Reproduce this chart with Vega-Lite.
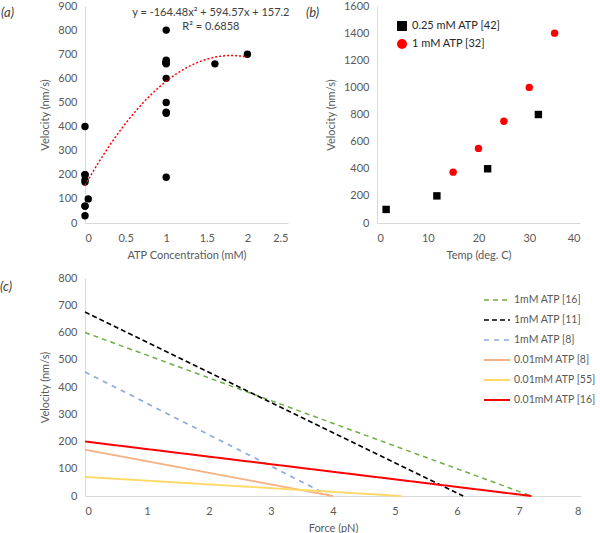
{
  "$schema": "https://vega.github.io/schema/vega-lite/v6.json",
  "padding": {"left": 0, "top": 0, "right": 0, "bottom": 0},
  "autosize": {"type": "pad"},
  "config": {
    "font": "Lato",
    "view": {"stroke": null},
    "axis": {
      "grid": false, "ticks": false, "tickSize": 0, "labelOverlap": false,
      "domainColor": "#D9D9D9", "domainWidth": 1,
      "labelColor": "#595959", "labelFontSize": 11, "labelFont": "Lato",
      "titleColor": "#595959", "titleFontSize": 11, "titleFontWeight": "normal", "titleFont": "Lato"
    },
    "axisY": {"labelPadding": 8, "titlePadding": 7},
    "axisX": {"labelPadding": 9, "titlePadding": 6},
    "title": {"fontSize": 13, "fontStyle": "italic", "fontWeight": "normal", "color": "#404040", "anchor": "start", "frame": "group", "font": "Lato"}
  },
  "datasets": {
    "atp": [
      {"atp": 0, "velocity": 400}, {"atp": 0, "velocity": 200}, {"atp": 0, "velocity": 200},
      {"atp": 0, "velocity": 178}, {"atp": 0, "velocity": 170}, {"atp": 0, "velocity": 70},
      {"atp": 0, "velocity": 70}, {"atp": 0, "velocity": 30}, {"atp": 0.04, "velocity": 100},
      {"atp": 1, "velocity": 800}, {"atp": 1, "velocity": 675}, {"atp": 1, "velocity": 665},
      {"atp": 1, "velocity": 665}, {"atp": 1, "velocity": 665}, {"atp": 1, "velocity": 665},
      {"atp": 1, "velocity": 665}, {"atp": 1, "velocity": 660}, {"atp": 1, "velocity": 600},
      {"atp": 1, "velocity": 500}, {"atp": 1, "velocity": 460}, {"atp": 1, "velocity": 455},
      {"atp": 1, "velocity": 190}, {"atp": 1.6, "velocity": 660}, {"atp": 2, "velocity": 700}
    ],
    "eqn": [
      {"atp": 1.55, "velocity": 870, "label": "y = -164.48x² + 594.57x + 157.2"},
      {"atp": 1.55, "velocity": 814, "label": "R² = 0.6858"}
    ],
    "temp": [
      {"temp": 1.8, "velocity": 100, "series": "0.25 mM ATP [42]"},
      {"temp": 11.8, "velocity": 200, "series": "0.25 mM ATP [42]"},
      {"temp": 21.8, "velocity": 400, "series": "0.25 mM ATP [42]"},
      {"temp": 31.8, "velocity": 800, "series": "0.25 mM ATP [42]"},
      {"temp": 15, "velocity": 375, "series": "1 mM ATP [32]"},
      {"temp": 20, "velocity": 550, "series": "1 mM ATP [32]"},
      {"temp": 25, "velocity": 750, "series": "1 mM ATP [32]"},
      {"temp": 30, "velocity": 1000, "series": "1 mM ATP [32]"},
      {"temp": 35, "velocity": 1400, "series": "1 mM ATP [32]"}
    ],
    "force": [
      {"line": "1mM ATP [16]", "force": 0, "velocity": 600},
      {"line": "1mM ATP [16]", "force": 7.2, "velocity": 0},
      {"line": "1mM ATP [11]", "force": 0, "velocity": 675},
      {"line": "1mM ATP [11]", "force": 6.1, "velocity": 0},
      {"line": "1mM ATP [8]", "force": 0, "velocity": 455},
      {"line": "1mM ATP [8]", "force": 3.95, "velocity": 0},
      {"line": "0.01mM ATP [8]", "force": 0, "velocity": 170},
      {"line": "0.01mM ATP [8]", "force": 4.0, "velocity": 0},
      {"line": "0.01mM ATP [55]", "force": 0, "velocity": 70},
      {"line": "0.01mM ATP [55]", "force": 5.1, "velocity": 0},
      {"line": "0.01mM ATP [16]", "force": 0, "velocity": 200},
      {"line": "0.01mM ATP [16]", "force": 7.2, "velocity": 0}
    ]
  },
  "resolve": {
    "scale": {"color": "independent", "shape": "independent", "strokeDash": "independent", "strokeWidth": "independent"},
    "legend": {"color": "independent", "shape": "independent", "strokeDash": "independent", "strokeWidth": "independent"}
  },
  "spacing": 12,
  "vconcat": [
    {
      "bounds": "flush",
      "spacing": 89,
      "resolve": {
        "scale": {"color": "independent", "shape": "independent"},
        "legend": {"color": "independent", "shape": "independent"}
      },
      "hconcat": [
        {
          "width": 203, "height": 217,
          "title": {"text": "(a)", "offset": -20, "dx": -84},
          "encoding": {
            "x": {"field": "atp", "type": "quantitative", "scale": {"domain": [0, 2.5], "nice": false},
                  "axis": {"values": [0, 0.5, 1, 1.5, 2, 2.5], "format": "~g", "labelOverlap": false, "title": "ATP Concentration (mM)"}},
            "y": {"field": "velocity", "type": "quantitative", "scale": {"domain": [0, 900], "nice": false},
                  "axis": {"values": [0, 100, 200, 300, 400, 500, 600, 700, 800, 900], "format": "d", "labelOverlap": false, "title": "Velocity (nm/s)"}}
          },
          "layer": [
            {
              "data": {"name": "atp"},
              "mark": {"type": "circle", "size": 55, "color": "#000000", "opacity": 1}
            },
            {
              "data": {"name": "atp"},
              "transform": [{"regression": "velocity", "on": "atp", "method": "poly", "order": 2, "extent": [0, 2]}],
              "mark": {"type": "line", "color": "#FF0000", "strokeDash": [2, 2], "strokeWidth": 1.5}
            },
            {
              "data": {"name": "eqn"},
              "mark": {"type": "text", "fontSize": 11, "color": "#404040", "align": "center", "baseline": "middle", "font": "Lato"},
              "encoding": {
                "text": {"field": "label"}
              }
            }
          ]
        },
        {
          "width": 203, "height": 217,
          "title": {"text": "(b)", "offset": -20, "dx": -71},
          "data": {"name": "temp"},
          "mark": {"type": "point", "filled": true, "size": 55, "opacity": 1},
          "encoding": {
            "x": {"field": "temp", "type": "quantitative", "scale": {"domain": [0, 40], "nice": false},
                  "axis": {"values": [0, 10, 20, 30, 40], "labelOverlap": false, "title": "Temp (deg. C)"}},
            "y": {"field": "velocity", "type": "quantitative", "scale": {"domain": [0, 1600], "nice": false},
                  "axis": {"values": [0, 200, 400, 600, 800, 1000, 1200, 1400, 1600], "format": "d", "labelOverlap": false, "title": "Velocity (nm/s)"}},
            "color": {"field": "series", "type": "nominal",
                      "scale": {"domain": ["0.25 mM ATP [42]", "1 mM ATP [32]"], "range": ["#000000", "#FF0000"]},
                      "legend": {"title": null, "orient": "none", "legendX": 19, "legendY": 14, "padding": 0, "labelFontSize": 11, "labelColor": "#262626", "labelFont": "Lato", "rowPadding": 7, "labelOffset": 4}},
            "shape": {"field": "series", "type": "nominal",
                      "scale": {"domain": ["0.25 mM ATP [42]", "1 mM ATP [32]"], "range": ["square", "circle"]},
                      "legend": {"title": null, "orient": "none", "legendX": 19, "legendY": 14, "padding": 0, "labelFontSize": 11, "labelColor": "#262626", "labelFont": "Lato", "rowPadding": 7, "labelOffset": 4}}
          }
        }
      ]
    },
    {
      "width": 496, "height": 218,
      "title": {"text": "(c)", "offset": -22, "dx": -85},
      "data": {"name": "force"},
      "mark": {"type": "line"},
      "encoding": {
        "x": {"field": "force", "type": "quantitative", "scale": {"domain": [0, 8], "nice": false},
              "axis": {"values": [0, 1, 2, 3, 4, 5, 6, 7, 8], "labelOverlap": false, "title": "Force (pN)"}},
        "y": {"field": "velocity", "type": "quantitative", "scale": {"domain": [0, 800], "nice": false},
              "axis": {"values": [0, 100, 200, 300, 400, 500, 600, 700, 800], "format": "d", "labelOverlap": false, "title": "Velocity (nm/s)"}},
        "color": {"field": "line", "type": "nominal",
                  "scale": {"domain": ["1mM ATP [16]", "1mM ATP [11]", "1mM ATP [8]", "0.01mM ATP [8]", "0.01mM ATP [55]", "0.01mM ATP [16]"],
                            "range": ["#70AD47", "#000000", "#8FAADC", "#F4B183", "#FFD966", "#FF0000"]},
                  "legend": {"title": null, "orient": "none", "legendX": 398, "legendY": 8, "padding": 0, "labelFontSize": 10.5, "labelColor": "#595959", "labelFont": "Lato", "symbolSize": 676, "rowPadding": -5, "labelOffset": 3}},
        "strokeDash": {"field": "line", "type": "nominal",
                  "scale": {"domain": ["1mM ATP [16]", "1mM ATP [11]", "1mM ATP [8]", "0.01mM ATP [8]", "0.01mM ATP [55]", "0.01mM ATP [16]"],
                            "range": [[5, 4], [5, 3], [5, 5], [1, 0], [1, 0], [1, 0]]},
                  "legend": {"title": null, "orient": "none", "legendX": 398, "legendY": 8, "padding": 0, "labelFontSize": 10.5, "labelColor": "#595959", "labelFont": "Lato", "symbolSize": 676, "rowPadding": -5, "labelOffset": 3}},
        "strokeWidth": {"field": "line", "type": "nominal",
                  "scale": {"domain": ["1mM ATP [16]", "1mM ATP [11]", "1mM ATP [8]", "0.01mM ATP [8]", "0.01mM ATP [55]", "0.01mM ATP [16]"],
                            "range": [1.5, 2, 1.5, 1.5, 1.5, 1.8]},
                  "legend": {"title": null, "orient": "none", "legendX": 398, "legendY": 8, "padding": 0, "labelFontSize": 10.5, "labelColor": "#595959", "labelFont": "Lato", "symbolSize": 676, "rowPadding": -5, "labelOffset": 3}}
      }
    }
  ]
}
